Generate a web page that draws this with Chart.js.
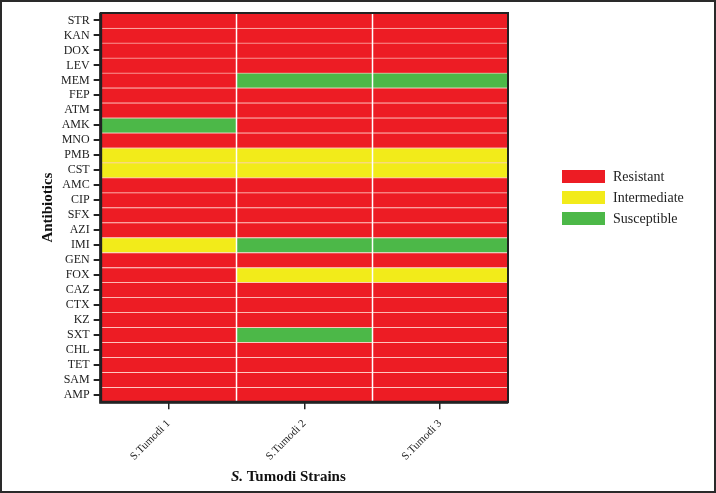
<!DOCTYPE html>
<html>
<head>
<meta charset="utf-8">
<script src="https://cdn.jsdelivr.net/npm/chart.js@4"></script>
<style>
  html, body { margin: 0; padding: 0; background: #fff; }
  #wrap { width: 716px; height: 493px; position: relative; }
</style>
</head>
<body>
<div id="wrap"><canvas id="grafico"></canvas></div>
<script>
const antibiotics = ['STR', 'KAN', 'DOX', 'LEV', 'MEM', 'FEP', 'ATM', 'AMK', 'MNO', 'PMB', 'CST', 'AMC', 'CIP',
    'SFX', 'AZI', 'IMI', 'GEN', 'FOX', 'CAZ', 'CTX', 'KZ', 'SXT', 'CHL', 'TET', 'SAM', 'AMP'];
const strains = ['S.Tumodi 1', 'S.Tumodi 2', 'S.Tumodi 3'];

// R = resistant, I = intermediate, S = susceptible (one entry per antibiotic, same order)
const strain1 = ['R', 'R', 'R', 'R', 'R', 'R', 'R', 'S', 'R', 'I', 'I', 'R', 'R',
    'R', 'R', 'I', 'R', 'R', 'R', 'R', 'R', 'R', 'R', 'R', 'R', 'R'];
const strain2 = ['R', 'R', 'R', 'R', 'S', 'R', 'R', 'R', 'R', 'I', 'I', 'R', 'R',
    'R', 'R', 'S', 'R', 'I', 'R', 'R', 'R', 'S', 'R', 'R', 'R', 'R'];
const strain3 = ['R', 'R', 'R', 'R', 'S', 'R', 'R', 'R', 'R', 'I', 'I', 'R', 'R',
    'R', 'R', 'S', 'R', 'I', 'R', 'R', 'R', 'R', 'R', 'R', 'R', 'R'];

const categoryCodes = ['R', 'I', 'S'];
const categoryNames = ['Resistant', 'Intermediate', 'Susceptible'];
const categoryColors = ['#ED1C24', '#F2EB1A', '#4CB848'];

const serif = 'Liberation Serif';

function corDe(codigo) {
    return categoryColors[categoryCodes.indexOf(codigo)];
}

// every cell is one unit wide, strains stacked side by side
let datasets = [strain1, strain2, strain3].map((valores, i) => ({
    label: strains[i],
    data: valores.map(() => 1),
    backgroundColor: valores.map(corDe),
    borderColor: 'rgba(255, 190, 180, 0.75)',
    borderWidth: { top: 1, bottom: 0, left: 0, right: 0 },
    borderSkipped: false,
    barPercentage: 1,
    categoryPercentage: 1
}));

const molduraPlugin = {
    id: 'moldura',
    beforeDraw(chart) {
        let c = chart.ctx;
        c.save();
        c.fillStyle = '#fff';
        c.fillRect(0, 0, chart.width, chart.height);
        c.restore();
    },
    afterDatasetsDraw(chart) {
        let c = chart.ctx;
        let a = chart.chartArea;
        let x = chart.scales.x;
        c.save();
        // white lines between strains
        c.strokeStyle = '#fff';
        c.lineWidth = 1.5;
        for (let i = 1; i < strains.length; i++) {
            let px = Math.round(x.getPixelForValue(i)) + 0.5;
            c.beginPath();
            c.moveTo(px, a.top);
            c.lineTo(px, a.bottom);
            c.stroke();
        }
        c.strokeStyle = '#222';
        c.lineWidth = 2;
        c.strokeRect(a.left, a.top, a.right - a.left, a.bottom - a.top);
        c.lineWidth = 3;
        c.beginPath();
        c.moveTo(a.left, a.top);
        c.lineTo(a.left, a.bottom);
        c.lineTo(a.right, a.bottom);
        c.stroke();
        c.restore();
    },
    afterDraw(chart) {
        let c = chart.ctx;
        let a = chart.chartArea;
        let x = chart.scales.x;
        c.save();
        // x title with italic genus initial
        let p1 = 'S.';
        let p2 = ' Tumodi Strains';
        let f1 = 'italic bold 15px "' + serif + '"';
        let f2 = 'bold 15px "' + serif + '"';
        c.font = f1;
        let w1 = c.measureText(p1).width;
        c.font = f2;
        let w2 = c.measureText(p2).width;
        let cx = (a.left + a.right) / 2 - 16;
        let y = x.bottom - 16;
        c.fillStyle = '#111';
        c.textBaseline = 'middle';
        c.textAlign = 'left';
        c.font = f1;
        c.fillText(p1, cx - (w1 + w2) / 2, y);
        c.font = f2;
        c.fillText(p2, cx - (w1 + w2) / 2 + w1, y);

        // legend of the categories
        let lx = a.right + 54;
        let ly = a.top + 157;
        c.font = '14px "' + serif + '"';
        categoryNames.forEach((nome, i) => {
            let yy = ly + i * 21;
            c.fillStyle = categoryColors[i];
            c.fillRect(lx, yy, 43, 13);
            c.fillStyle = '#222';
            c.fillText(nome, lx + 51, yy + 7);
        });

        // outer frame of the figure
        c.strokeStyle = '#2a2a2a';
        c.lineWidth = 2;
        c.strokeRect(1, 1, chart.width - 2, chart.height - 2);
        c.restore();
    }
};

let ctx = document.getElementById('grafico').getContext('2d');
window.grafico = new Chart(ctx, {
    type: 'bar',
    data: { labels: antibiotics, datasets: datasets },
    options: {
        indexAxis: 'y',
        responsive: true,
        maintainAspectRatio: false,
        animation: false,
        layout: { padding: { top: 13, left: 39, right: 208, bottom: 0 } },
        scales: {
            x: {
                type: 'linear',
                stacked: true,
                min: 0,
                max: strains.length,
                afterBuildTicks(scale) {
                    scale.ticks = strains.map((s, i) => ({ value: i + 0.5 }));
                },
                ticks: {
                    autoSkip: false,
                    minRotation: 45,
                    maxRotation: 45,
                    padding: 8,
                    color: '#222',
                    font: { family: serif, size: 11 },
                    callback: (v, i) => strains[i]
                },
                grid: { drawOnChartArea: false, tickLength: 7, color: '#222', lineWidth: 1.5 },
                border: { display: true, color: '#222', width: 2 },
                title: {
                    display: true,
                    text: 'S. Tumodi Strains',
                    color: 'rgba(0,0,0,0)',
                    font: { family: serif, size: 15, weight: 'bold' },
                    padding: { top: 2, bottom: 2 }
                }
            },
            y: {
                type: 'category',
                stacked: true,
                offset: true,
                ticks: {
                    autoSkip: false,
                    color: '#222',
                    padding: 4,
                    font: { family: serif, size: 12 }
                },
                grid: { drawOnChartArea: false, offset: false, tickLength: 7, color: '#222', lineWidth: 2 },
                border: { display: true, color: '#222', width: 2 },
                title: {
                    display: true,
                    text: 'Antibiotics',
                    color: '#111',
                    font: { family: serif, size: 15, weight: 'bold' },
                    padding: { top: 0, bottom: 0 }
                }
            }
        },
        plugins: {
            legend: { display: false },
            tooltip: { enabled: false }
        }
    },
    plugins: [molduraPlugin]
});
</script>
</body>
</html>
